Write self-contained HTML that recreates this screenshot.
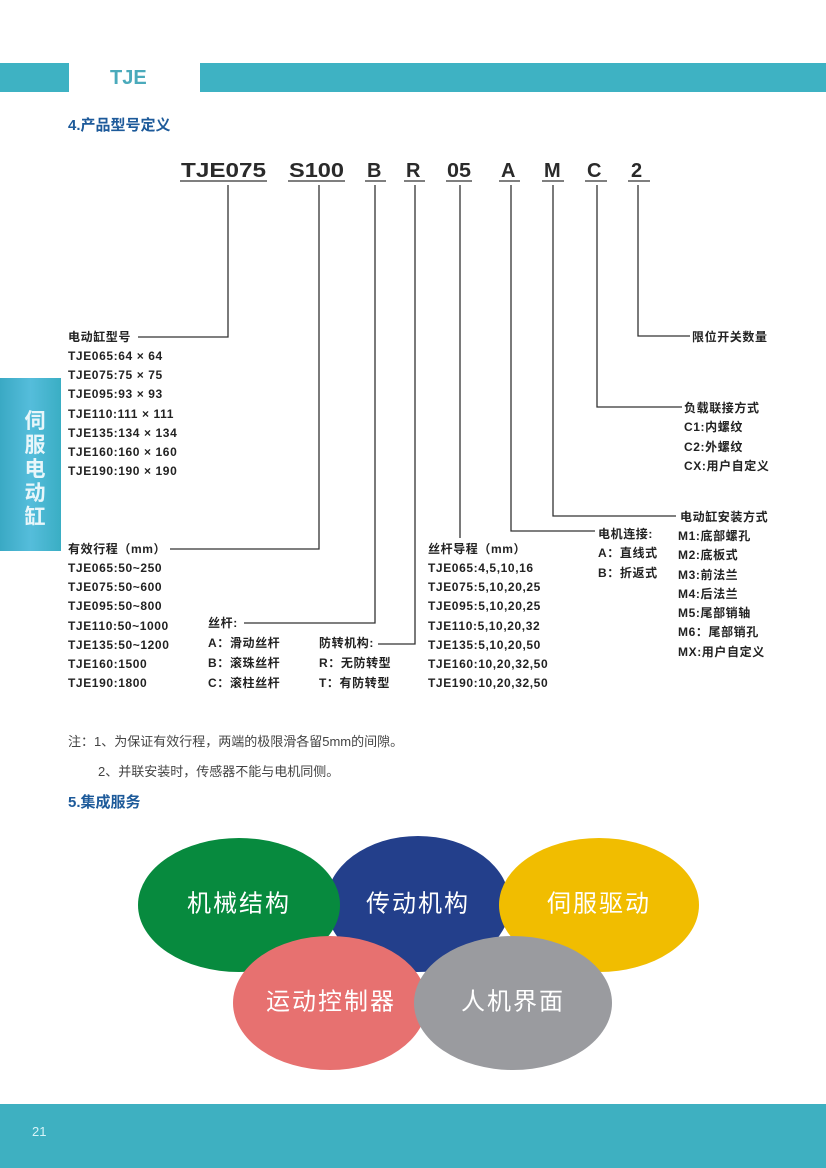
<!DOCTYPE html>
<html><head><meta charset="utf-8"><style>
html,body{margin:0;padding:0;background:#fff;}
body{width:826px;height:1168px;position:relative;overflow:hidden;}
svg{position:absolute;left:0;top:0;}
.t{font-family:"Liberation Sans","Noto Sans CJK SC",sans-serif;font-size:12px;font-weight:bold;fill:#222;letter-spacing:0.6px;}
.c{font-family:"Liberation Sans",sans-serif;font-size:20px;font-weight:bold;fill:#2a2a2a;}
.n{font-family:"Liberation Sans","Noto Sans CJK SC",sans-serif;font-size:13px;fill:#444;}
.h{font-family:"Liberation Sans","Noto Sans CJK SC",sans-serif;font-size:15px;font-weight:bold;fill:#1d5a9a;}
.e{font-family:"Noto Sans CJK SC",sans-serif;font-size:24px;fill:#fff;letter-spacing:2px;}
</style></head><body>
<svg width="826" height="1168" viewBox="0 0 826 1168">
<defs><linearGradient id="g" x1="0" x2="1"><stop offset="0" stop-color="#3aa9c4"/><stop offset="0.5" stop-color="#55bddb"/><stop offset="1" stop-color="#3aaec4"/></linearGradient></defs>
<!-- header -->
<rect x="0" y="63" width="69" height="29" fill="#3eb2c3"/>
<rect x="200" y="63" width="626" height="29" fill="#3eb2c3"/>
<text x="110" y="84" font-family="Liberation Sans,sans-serif" font-size="20" font-weight="bold" fill="#4aaabb">TJE</text>
<text x="68" y="130" class="h">4.产品型号定义</text>
<!-- side tab -->
<rect x="0" y="378" width="61" height="173" fill="url(#g)"/>
<g font-family="Noto Sans CJK SC,sans-serif" font-size="21" font-weight="bold" fill="#e8f6fa" text-anchor="middle">
<text x="35" y="428">伺</text><text x="35" y="452">服</text><text x="35" y="476">电</text><text x="35" y="500">动</text><text x="35" y="524">缸</text></g>
<!-- codes -->
<g class="c">
<text x="181" y="177" textLength="85" lengthAdjust="spacingAndGlyphs" class="c">TJE075</text>
<text x="289" y="177" textLength="55" lengthAdjust="spacingAndGlyphs" class="c">S100</text>
<text x="367" y="177" class="c">B</text>
<text x="406" y="177" class="c">R</text>
<text x="447" y="177" textLength="24" lengthAdjust="spacingAndGlyphs" class="c">05</text>
<text x="501" y="177" class="c">A</text>
<text x="544" y="177" class="c">M</text>
<text x="587" y="177" class="c">C</text>
<text x="631" y="177" class="c">2</text>
</g>
<g stroke="#555" stroke-width="1.5">
<line x1="180" y1="181" x2="267" y2="181"/><line x1="288" y1="181" x2="345" y2="181"/>
<line x1="365" y1="181" x2="386" y2="181"/><line x1="404" y1="181" x2="425" y2="181"/>
<line x1="446" y1="181" x2="472" y2="181"/><line x1="499" y1="181" x2="520" y2="181"/>
<line x1="542" y1="181" x2="564" y2="181"/><line x1="585" y1="181" x2="607" y2="181"/>
<line x1="628" y1="181" x2="650" y2="181"/>
</g>
<g stroke="#333" stroke-width="1.3" fill="none">
<polyline points="228,185 228,337 138,337"/>
<polyline points="319,185 319,549 170,549"/>
<polyline points="375,185 375,623 244,623"/>
<polyline points="415,185 415,644 378,644"/>
<polyline points="460,185 460,538"/>
<polyline points="511,185 511,531 595,531"/>
<polyline points="553,185 553,516 676,516"/>
<polyline points="597,185 597,407 682,407"/>
<polyline points="638,185 638,336 690,336"/>
</g>
<g class="t" dominant-baseline="middle">
<text x="68" y="338">电动缸型号</text>
<text x="68" y="357">TJE065:64 × 64</text>
<text x="68" y="376">TJE075:75 × 75</text>
<text x="68" y="395">TJE095:93 × 93</text>
<text x="68" y="415">TJE110:111 × 111</text>
<text x="68" y="434">TJE135:134 × 134</text>
<text x="68" y="453">TJE160:160 × 160</text>
<text x="68" y="472">TJE190:190 × 190</text>
<text x="68" y="550">有效行程（mm）</text>
<text x="68" y="569">TJE065:50~250</text>
<text x="68" y="588">TJE075:50~600</text>
<text x="68" y="607">TJE095:50~800</text>
<text x="68" y="627">TJE110:50~1000</text>
<text x="68" y="646">TJE135:50~1200</text>
<text x="68" y="665">TJE160:1500</text>
<text x="68" y="684">TJE190:1800</text>
<text x="208" y="624">丝杆:</text>
<text x="208" y="644">A：滑动丝杆</text>
<text x="208" y="664">B：滚珠丝杆</text>
<text x="208" y="684">C：滚柱丝杆</text>
<text x="319" y="644">防转机构:</text>
<text x="319" y="664">R：无防转型</text>
<text x="319" y="684">T：有防转型</text>
<text x="428" y="550">丝杆导程（mm）</text>
<text x="428" y="569">TJE065:4,5,10,16</text>
<text x="428" y="588">TJE075:5,10,20,25</text>
<text x="428" y="607">TJE095:5,10,20,25</text>
<text x="428" y="627">TJE110:5,10,20,32</text>
<text x="428" y="646">TJE135:5,10,20,50</text>
<text x="428" y="665">TJE160:10,20,32,50</text>
<text x="428" y="684">TJE190:10,20,32,50</text>
<text x="598" y="535">电机连接:</text>
<text x="598" y="554">A：直线式</text>
<text x="598" y="574">B：折返式</text>
<text x="680" y="518">电动缸安装方式</text>
<text x="678" y="537">M1:底部螺孔</text>
<text x="678" y="556">M2:底板式</text>
<text x="678" y="576">M3:前法兰</text>
<text x="678" y="595">M4:后法兰</text>
<text x="678" y="614">M5:尾部销轴</text>
<text x="678" y="633">M6：尾部销孔</text>
<text x="678" y="653">MX:用户自定义</text>
<text x="684" y="409">负载联接方式</text>
<text x="684" y="428">C1:内螺纹</text>
<text x="684" y="448">C2:外螺纹</text>
<text x="684" y="467">CX:用户自定义</text>
<text x="692" y="338">限位开关数量</text>
</g>
<text x="68" y="746" class="n">注：1、为保证有效行程，两端的极限滑各留5mm的间隙。</text>
<text x="98" y="776" class="n">2、并联安装时，传感器不能与电机同侧。</text>
<text x="68" y="807" class="h">5.集成服务</text>
<!-- ellipses -->
<ellipse cx="418" cy="904" rx="92" ry="68" fill="#233f8b"/>
<ellipse cx="239" cy="905" rx="101" ry="67" fill="#078a3e"/>
<ellipse cx="599" cy="905" rx="100" ry="67" fill="#f1bd00"/>
<ellipse cx="330" cy="1003" rx="97" ry="67" fill="#e77170"/>
<ellipse cx="513" cy="1003" rx="99" ry="67" fill="#9a9b9f"/>
<g class="e" text-anchor="middle" dominant-baseline="middle">
<text x="239" y="905">机械结构</text>
<text x="418" y="905">传动机构</text>
<text x="599" y="905">伺服驱动</text>
<text x="331" y="1003">运动控制器</text>
<text x="513" y="1003">人机界面</text>
</g>
<!-- footer -->
<rect x="0" y="1104" width="826" height="64" fill="#3eb0c1"/>
<text x="32" y="1136" font-family="Liberation Sans,sans-serif" font-size="13" fill="#d8f4f8">21</text>
</svg>
</body></html>
